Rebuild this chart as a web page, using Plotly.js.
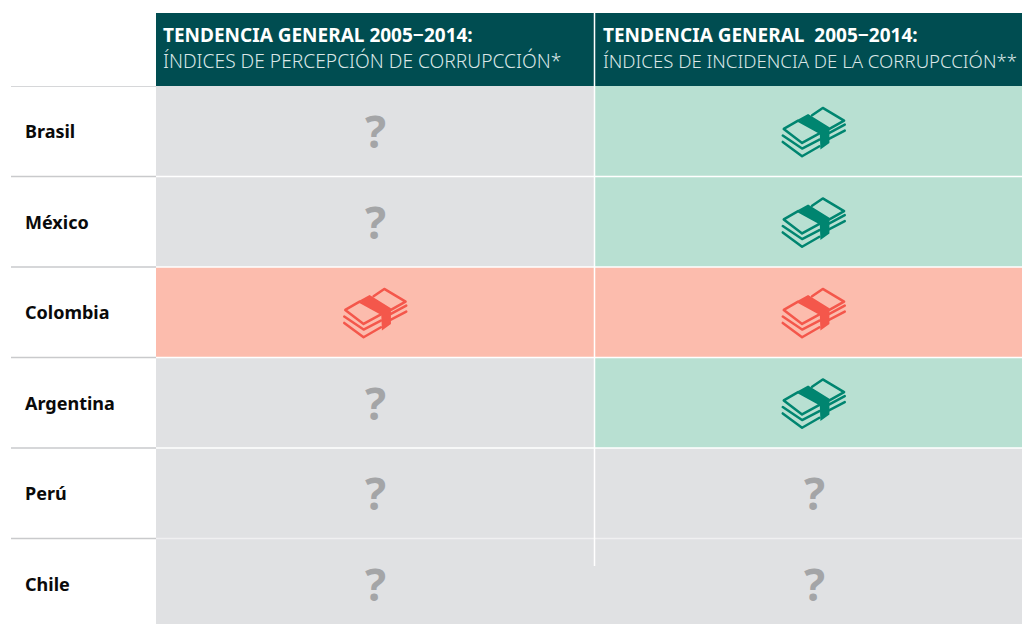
<!DOCTYPE html>
<html><head><meta charset="utf-8">
<script src="https://cdn.plot.ly/plotly-3.0.1.min.js"></script>
<style>html,body{margin:0;padding:0;background:#fff;overflow:hidden}#c{width:1022px;height:624px}</style>
</head><body><div id="c"></div>
<script>
const countries = ["Brasil","México","Colombia","Argentina","Perú","Chile"];
const headTitle1 = "TENDENCIA GENERAL 2005−2014:";
const headSub1 = "ÍNDICES DE PERCEPCIÓN DE CORRUPCCIÓN*";
const headTitle2 = "TENDENCIA GENERAL  2005−2014:";
const headSub2 = "ÍNDICES DE INCIDENCIA DE LA CORRUPCCIÓN**";
// 0 = sin cambio claro (?), 1 = verde, 2 = rojo
const percepcion = [0,0,2,0,0,0];
const incidencia = [1,1,2,1,0,0];

const W=1022,H=624, FONT='"Noto Sans", sans-serif';
const GREY='#e0e1e3',GREEN='#b8e0d2',RED='#fcbcad',DARK='#004d51';
const ICON={1:'#008570',2:'#f4574b'};
const tableTop=86, rowH=90.5, colW=438.5, col1L=156;

function iconUrl(c){
  const s=`<svg xmlns="http://www.w3.org/2000/svg" width="110" height="80" viewBox="0 0 330 240"><g fill="none" stroke="${c}" stroke-width="7.5" stroke-linejoin="round" stroke-linecap="round"><path d="M75 113L118 88L185 125L130 155Z"/><path d="M72 133L130 172L182 145"/><path d="M72 152L130 195L182 165"/><path d="M160 72L192 50L256 88L212 113"/><path d="M212 125L258 100"/><path d="M212 142L258 118"/></g><path fill="${c}" d="M118 85L148 68L212 108V155L185 175L183 125Z"/></svg>`;
  return 'data:image/svg+xml;base64,'+btoa(s);
}

function hm(vals,xa,name){
  return {type:'heatmap',x:[name],y:countries,z:vals.map(v=>[v]),xaxis:xa,yaxis:'y',zmin:0,zmax:2,
    colorscale:[[0,GREY],[0.25,GREY],[0.25,GREEN],[0.75,GREEN],[0.75,RED],[1,RED]],showscale:false,hoverinfo:'y+z'};
}
function imgs(vals,xr){
  const out=[];
  vals.forEach((v,i)=>{ if(v>0) out.push({source:iconUrl(ICON[v]),xref:xr,yref:'y',x:0,y:i,sizex:110/colW,sizey:80/rowH,
    xanchor:'center',yanchor:'middle',sizing:'stretch',layer:'above'}); });
  return out;
}
const n1='Percepción',n2='Incidencia';
const data=[hm(percepcion,'x',n1),hm(incidencia,'x2',n2)];

const shapes=[
  {type:'rect',xref:'paper',yref:'paper',x0:col1L/W,x1:1,y0:1-tableTop/H,y1:1-13/H,fillcolor:DARK,line:{width:0},layer:'above'},
];
countries.forEach((_,i)=>{
  shapes.push({type:'line',xref:'paper',yref:'y',x0:11/W,x1:col1L/W,y0:i-0.5,y1:i-0.5,line:{color:'#c9cacc',width:1.5},layer:'above'});
  if(i>0) shapes.push({type:'line',xref:'paper',yref:'y',x0:col1L/W,x1:1,y0:i-0.5,y1:i-0.5,line:{color:i==5?'#f0f0f1':'#ffffff',width:1.5},layer:'above'});
});
shapes.push({type:'line',xref:'paper',yref:'paper',x0:594.5/W,x1:594.5/W,y0:0,y1:1-566/H,line:{color:GREY,width:2},layer:'above'});
shapes.push({type:'line',xref:'paper',yref:'paper',x0:594.5/W,x1:594.5/W,y0:1-566/H,y1:1-13/H,line:{color:'#ffffff',width:1.5},layer:'above'});

const annotations=countries.map((c,i)=>({xref:'paper',yref:'y',x:23/W,y:i,text:'<b>'+c+'</b>',showarrow:false,xanchor:'left',yanchor:'middle',
  font:{family:FONT,size:18,color:'#0a0a0a',weight:600}}));
function marks(vals,xr,shift){
  vals.forEach((v,i)=>{ if(v===0) annotations.push({xref:xr,yref:'y',x:0,y:i,xshift:shift,text:'<b>?</b>',showarrow:false,xanchor:'center',yanchor:'middle',
    font:{family:FONT,size:44,color:'#a4a5a7'}}); });
}
marks(percepcion,'x',0); marks(incidencia,'x2',0.5);
function head(x,t,s,subSize){
  annotations.push({xref:'paper',yref:'paper',x:x/W,y:1-35/H,text:'<b>'+t+'</b>',showarrow:false,xanchor:'left',yanchor:'middle',borderpad:0,font:{family:FONT,size:19,color:'#fff'}});
  annotations.push({xref:'paper',yref:'paper',x:x/W,y:1-60.5/H,text:s,showarrow:false,xanchor:'left',yanchor:'middle',borderpad:0,font:{family:FONT,size:subSize,color:'#dbe7e7',weight:300}});
}
head(162,headTitle1,headSub1,19.2);
head(602,headTitle2,headSub2,18.6);

const layout={width:W,height:H,margin:{l:0,r:0,t:0,b:0},paper_bgcolor:'#fff',plot_bgcolor:'#fff',showlegend:false,
  xaxis:{domain:[col1L/W,(col1L+colW)/W],range:[-0.5,0.5],type:'category',visible:false,fixedrange:true},
  xaxis2:{domain:[(col1L+colW)/W,1],range:[-0.5,-0.5+(W-col1L-colW)/colW],type:'category',visible:false,fixedrange:true},
  yaxis:{domain:[0,1-tableTop/H],range:[-0.5+(H-tableTop)/rowH,-0.5],type:'category',categoryorder:'array',categoryarray:countries,visible:false,fixedrange:true},
  shapes,annotations,images:[...imgs(percepcion,'x'),...imgs(incidencia,'x2')]};
Plotly.newPlot('c',data,layout,{displayModeBar:false,staticPlot:true});
</script></body></html>
